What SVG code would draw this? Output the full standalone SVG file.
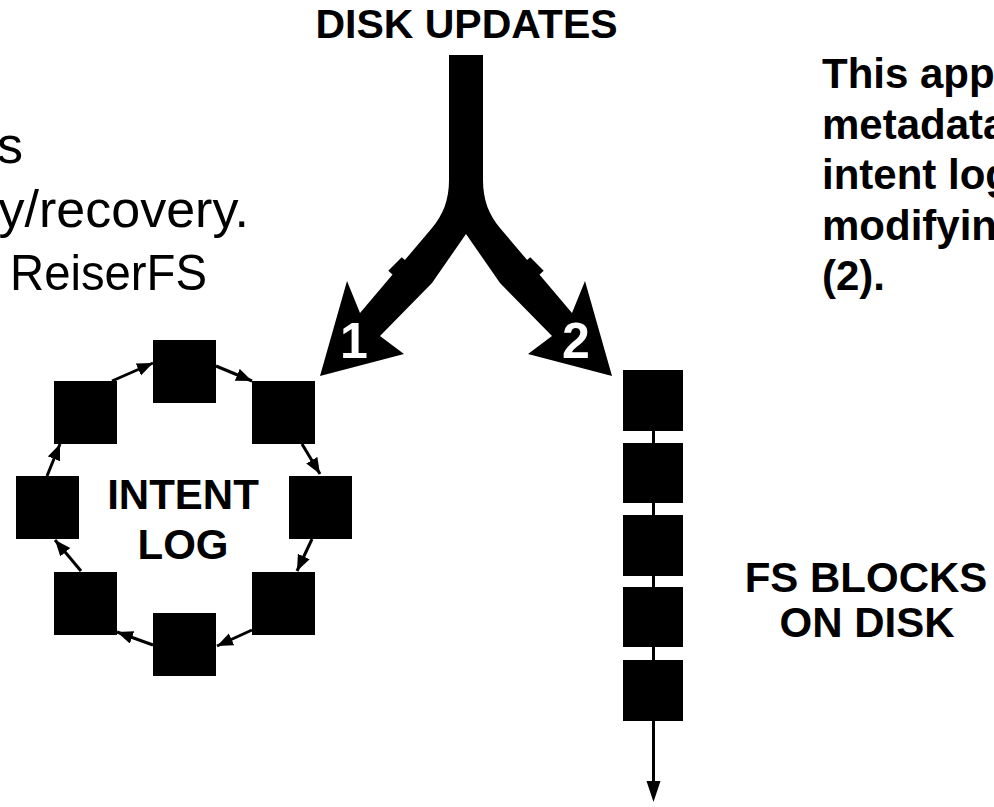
<svg xmlns="http://www.w3.org/2000/svg" width="994" height="807" viewBox="0 0 994 807">
<style>
.b{font-family:"Liberation Sans",Arial,sans-serif;font-weight:bold;fill:#000}
.r{font-family:"Liberation Sans",Arial,sans-serif;fill:#000}
.w{font-family:"Liberation Sans",Arial,sans-serif;font-weight:bold;fill:#fff}
.blk{fill:#000}
.ln{stroke:#000;stroke-width:3;fill:none}
</style>
<defs>
<marker id="ah" markerUnits="userSpaceOnUse" markerWidth="17" markerHeight="14" refX="16" refY="6.5" orient="auto">
<path d="M0,0 L16,6.5 L0,13 Z" fill="#000"/>
</marker>
</defs>
<rect width="994" height="807" fill="#fff"/>

<g id="left-text">
<text class="r" font-size="52" text-anchor="end" x="23" y="163">s</text>
<text class="r" font-size="52" text-anchor="end" x="249" y="227">y/recovery.</text>
<text class="r" font-size="50" x="10" y="290" textLength="197" lengthAdjust="spacingAndGlyphs">ReiserFS</text>
</g>

<g id="right-text">
<text class="b" font-size="42" x="822" y="88">This app</text>
<text class="b" font-size="42" x="822" y="138.5">metadata</text>
<text class="b" font-size="42" x="822" y="189">intent log</text>
<text class="b" font-size="42" x="822" y="239.5">modifyin</text>
<text class="b" font-size="42" x="822" y="290">(2).</text>
</g>

<g id="disk-updates">
<text class="b" font-size="41" text-anchor="middle" x="466.5" y="38">DISK UPDATES</text>
</g>

<g id="fork">
<path class="blk" d="M449,55 H483 V180 C483,200 489,215 500,228 L572,313 L585,281 L612,376 L528,354 L552,336 L500,283 L466,234 L432,283 L380,336 L404,354 L320,376 L347,281 L360,313 L432,228 C443,215 449,200 449,180 Z"/>
<polygon class="blk" points="388.3,270.7 401.7,257.3 407.3,262 394,276"/>
<polygon class="blk" points="543.7,270.7 530.3,257.3 524.7,262 538,276"/>
<text class="w" font-size="50" text-anchor="middle" x="354" y="358">1</text>
<text class="w" font-size="50" text-anchor="middle" x="576" y="358">2</text>
</g>

<g id="connectors">
<line class="ln" x1="216" y1="366" x2="252" y2="381" marker-end="url(#ah)"/>
<line class="ln" x1="302" y1="444" x2="320" y2="474" marker-end="url(#ah)"/>
<line class="ln" x1="312" y1="539" x2="297" y2="571" marker-end="url(#ah)"/>
<line class="ln" x1="252" y1="630" x2="217" y2="646" marker-end="url(#ah)"/>
<line class="ln" x1="153" y1="645" x2="117" y2="632" marker-end="url(#ah)"/>
<line class="ln" x1="81" y1="571" x2="55" y2="540" marker-end="url(#ah)"/>
<line class="ln" x1="47" y1="476" x2="60" y2="444" marker-end="url(#ah)"/>
<line class="ln" x1="112" y1="381" x2="153" y2="363" marker-end="url(#ah)"/>
<line class="ln" x1="653.5" y1="400" x2="653.5" y2="785"/>
<polygon class="blk" points="646.5,781 660.5,781 653.5,802"/>
</g>

<g id="intent-log">
<rect id="il1" class="blk" x="153" y="340" width="63" height="63"/>
<rect id="il2" class="blk" x="252" y="381" width="63" height="63"/>
<rect id="il3" class="blk" x="289" y="476" width="63" height="63"/>
<rect id="il4" class="blk" x="252" y="572" width="63" height="63"/>
<rect id="il5" class="blk" x="153" y="613" width="63" height="63"/>
<rect id="il6" class="blk" x="54" y="572" width="63" height="63"/>
<rect id="il7" class="blk" x="16" y="476" width="63" height="63"/>
<rect id="il8" class="blk" x="54" y="381" width="63" height="63"/>
<text class="b" font-size="42" text-anchor="middle" x="183" y="509">INTENT</text>
<text class="b" font-size="42" text-anchor="middle" x="183" y="559">LOG</text>
</g>

<g id="fs-blocks">
<rect id="fs1" class="blk" x="623" y="370" width="60" height="61"/>
<rect id="fs2" class="blk" x="623" y="443" width="60" height="60"/>
<rect id="fs3" class="blk" x="623" y="515" width="60" height="61"/>
<rect id="fs4" class="blk" x="623" y="587" width="60" height="60"/>
<rect id="fs5" class="blk" x="623" y="660" width="60" height="61"/>
<text class="b" font-size="42" text-anchor="middle" x="866" y="592">FS BLOCKS</text>
<text class="b" font-size="42" text-anchor="middle" x="867" y="637">ON DISK</text>
</g>
</svg>
